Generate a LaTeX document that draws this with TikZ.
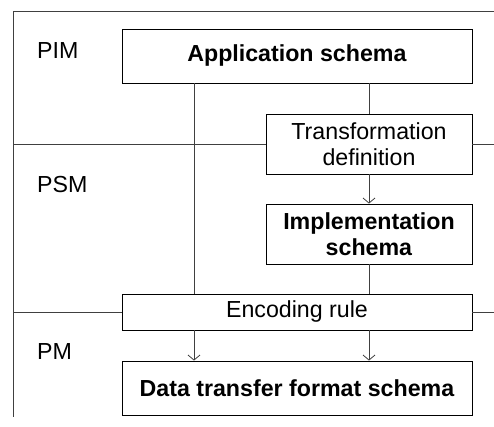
\documentclass[tikz,border=0pt]{standalone}
\usepackage{fontspec}
\setmainfont{Liberation Sans}
\usetikzlibrary{arrows.meta}
\begin{document}
\begin{tikzpicture}[x=1pt,y=-1pt,
  every node/.style={font=\fontsize{23.2}{25.5}\selectfont},
  box/.style={draw=black,line width=0.9pt,inner sep=0pt,align=center},
  level/.style={anchor=base west,inner sep=0pt},
  rule/.style={draw=black!75,line width=0.9pt},
  link/.style={draw=black!75,line width=0.9pt},
  flow/.style={link,-{Straight Barb[length=5pt,width=12pt,line width=0.8pt]}}]
\useasboundingbox (0,0) rectangle (494,427);
% frame of the level diagram
\draw[rule] (494,11) -- (13,11) -- (13,417);
% boxes
\node[box,minimum width=350pt,minimum height=54pt] (app) at (297,56) {\textbf{Application schema}};
\node[box,minimum width=206pt,minimum height=60pt] (trans) at (369,144) {Transformation\\definition};
\node[box,minimum width=206pt,minimum height=60pt] (impl) at (369,234) {\textbf{Implementation}\\\textbf{schema}};
\node[box,minimum width=350pt,minimum height=36pt] (enc) at (297,312) {Encoding rule};
\node[box,minimum width=350pt,minimum height=54pt] (data) at (297,388) {\textbf{Data transfer format schema}};
% level labels
\node[level] (pim) at (37,59) {PIM};
\node[level] (psm) at (37,193) {PSM};
\node[level] (pm) at (37,359) {PM};
% level boundaries
\draw[rule] (13,144) -- (trans.west);
\draw[rule] (trans.east) -- (494,144);
\draw[rule] (13,312) -- (enc.west);
\draw[rule] (enc.east) -- (494,312);
% connectors
\coordinate (lx) at (194,0);
\draw[link] (app.south -| lx) -- (enc.north -| lx);
\draw[link] (app.south -| trans) -- (trans.north);
\draw[flow] (trans.south) -- (impl.north);
\draw[link] (impl.south) -- (enc.north -| impl);
\draw[flow] (enc.south -| lx) -- (data.north -| lx);
\draw[flow] (enc.south -| impl) -- (data.north -| impl);
\end{tikzpicture}
\end{document}
